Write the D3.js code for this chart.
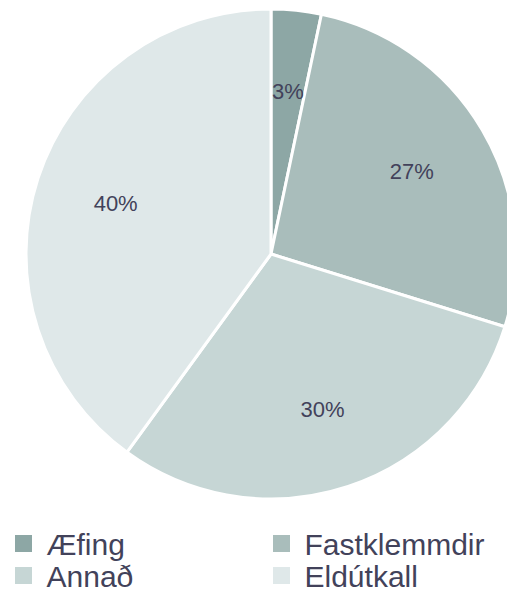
<!DOCTYPE html>
<html>
<head>
<meta charset="utf-8">
<script src="https://cdn.jsdelivr.net/npm/d3@7"></script>
<style>
  body { margin: 0; background: #fff; }
  svg { display: block; }
  text { font-family: "Liberation Sans", Arial, sans-serif; }
</style>
</head>
<body>
<div id="chart"></div>
<script>
// categories and shares (percent)
const categories = ["Æfing", "Fastklemmdir", "Annað", "Eldútkall"];
const shares = [3.3, 26.5, 30.2, 40.0];
const labels = ["3%", "27%", "30%", "40%"];
const colors = ["#8da7a5", "#a9bdbb", "#c6d6d5", "#dfe8e9"];

const width = 507;
const height = 593;

const svg = d3.select("#chart")
    .append("svg")
    .attr("width", width)
    .attr("height", height);

const cx = 271, cy = 254, radius = 245;

const pie = d3.pie().sort(null).value(d => d);
const arcs = pie(shares);

const arc = d3.arc().innerRadius(0).outerRadius(radius);
const labelArc = d3.arc().innerRadius(radius * 2 / 3).outerRadius(radius * 2 / 3);

const g = svg.append("g").attr("transform", `translate(${cx},${cy})`);

g.selectAll("path")
    .data(arcs)
    .enter().append("path")
    .attr("d", arc)
    .attr("fill", (d, i) => colors[i])
    .attr("stroke", "#fff")
    .attr("stroke-width", 3)
    .attr("stroke-linejoin", "round");

g.selectAll("text")
    .data(arcs)
    .enter().append("text")
    .attr("transform", d => `translate(${labelArc.centroid(d)})`)
    .attr("text-anchor", "middle")
    .attr("dy", "0.35em")
    .style("font-size", "22px")
    .style("fill", "#42425a")
    .text((d, i) => labels[i]);

// legend, two columns
const legend = svg.append("g");
const colX = [15, 273];
const rowY = [535, 567];

const item = legend.selectAll("g")
    .data(categories)
    .enter().append("g")
    .attr("transform", (d, i) => `translate(${colX[i % 2]},${rowY[Math.floor(i / 2)]})`);

item.append("rect")
    .attr("width", 17)
    .attr("height", 17)
    .attr("fill", (d, i) => colors[i]);

item.append("text")
    .attr("x", 31.5)
    .attr("y", 20)
    .style("font-size", "30px")
    .style("fill", "#42425a")
    .text(d => d);
</script>
</body>
</html>
